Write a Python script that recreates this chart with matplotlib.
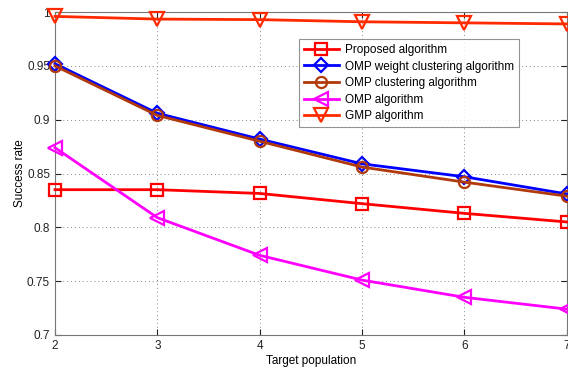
import matplotlib
matplotlib.use("Agg")
import matplotlib.pyplot as plt

plt.rcParams['font.family'] = ['Liberation Sans', 'DejaVu Sans']

targets = [2, 3, 4, 5, 6, 7]
proposed = [0.835, 0.835, 0.8315, 0.822, 0.813, 0.805]
omp_weight = [0.952, 0.906, 0.882, 0.859, 0.847, 0.831]
omp_cluster = [0.950, 0.904, 0.880, 0.856, 0.842, 0.829]
omp = [0.874, 0.809, 0.774, 0.751, 0.735, 0.724]
gmp = [0.996, 0.9935, 0.993, 0.991, 0.990, 0.989]

labels = ["Proposed algorithm", "OMP weight clustering algorithm",
          "OMP clustering algorithm", "OMP algorithm", "GMP algorithm"]
yticks = [0.7, 0.75, 0.8, 0.85, 0.9, 0.95, 1]
ytick_labels = ["0.7", "0.75", "0.8", "0.85", "0.9", "0.95", "1"]

fig = plt.figure(figsize=(5.68, 3.72), dpi=100)
ax = fig.add_axes([0.0968, 0.0995, 0.9012, 0.868])

style = dict(lw=2, mfc='none', mew=1.6, clip_on=False, zorder=3)
ax.plot(targets, proposed, marker='s', ms=8, color='#ff0000', label=labels[0], **style)
ax.plot(targets, omp_weight, marker='D', ms=7, color='#0000ff', label=labels[1], **style)
ax.plot(targets, omp_cluster, marker='o', ms=8, color='#b03a0c', label=labels[2], **style)
ax.plot(targets, omp, marker='<', ms=10, color='#ff00ff', label=labels[3], **style)
ax.plot(targets, gmp, marker='v', ms=10, color='#ff2a00', label=labels[4], **style)

ax.set_xlim(2, 7)
ax.set_ylim(0.7, 1.0)
ax.set_xticks(targets)
ax.set_yticks(yticks)
ax.set_yticklabels(ytick_labels)
ax.tick_params(direction='in', top=True, right=True, labelsize=8.5, colors='#222222', length=4)
for s in ax.spines.values():
    s.set_color('#777777')
    s.set_linewidth(0.8)
ax.grid(True, linestyle=(0, (1, 3)), color='#888888', linewidth=0.7)

ax.set_xlabel("Target population", fontsize=8.5, labelpad=2)
ax.set_ylabel("Success rate", fontsize=8.5, labelpad=0.5)

leg = ax.legend(loc='upper left', bbox_to_anchor=(0.4766, 0.916), borderaxespad=0,
                fontsize=8.5, frameon=True, fancybox=False, edgecolor='#777777',
                handlelength=3, handletextpad=0.5, borderpad=0.4, labelspacing=0.39)
leg.get_frame().set_linewidth(0.8)
leg.set_zorder(5)

fig.savefig("out.png", dpi=100)
